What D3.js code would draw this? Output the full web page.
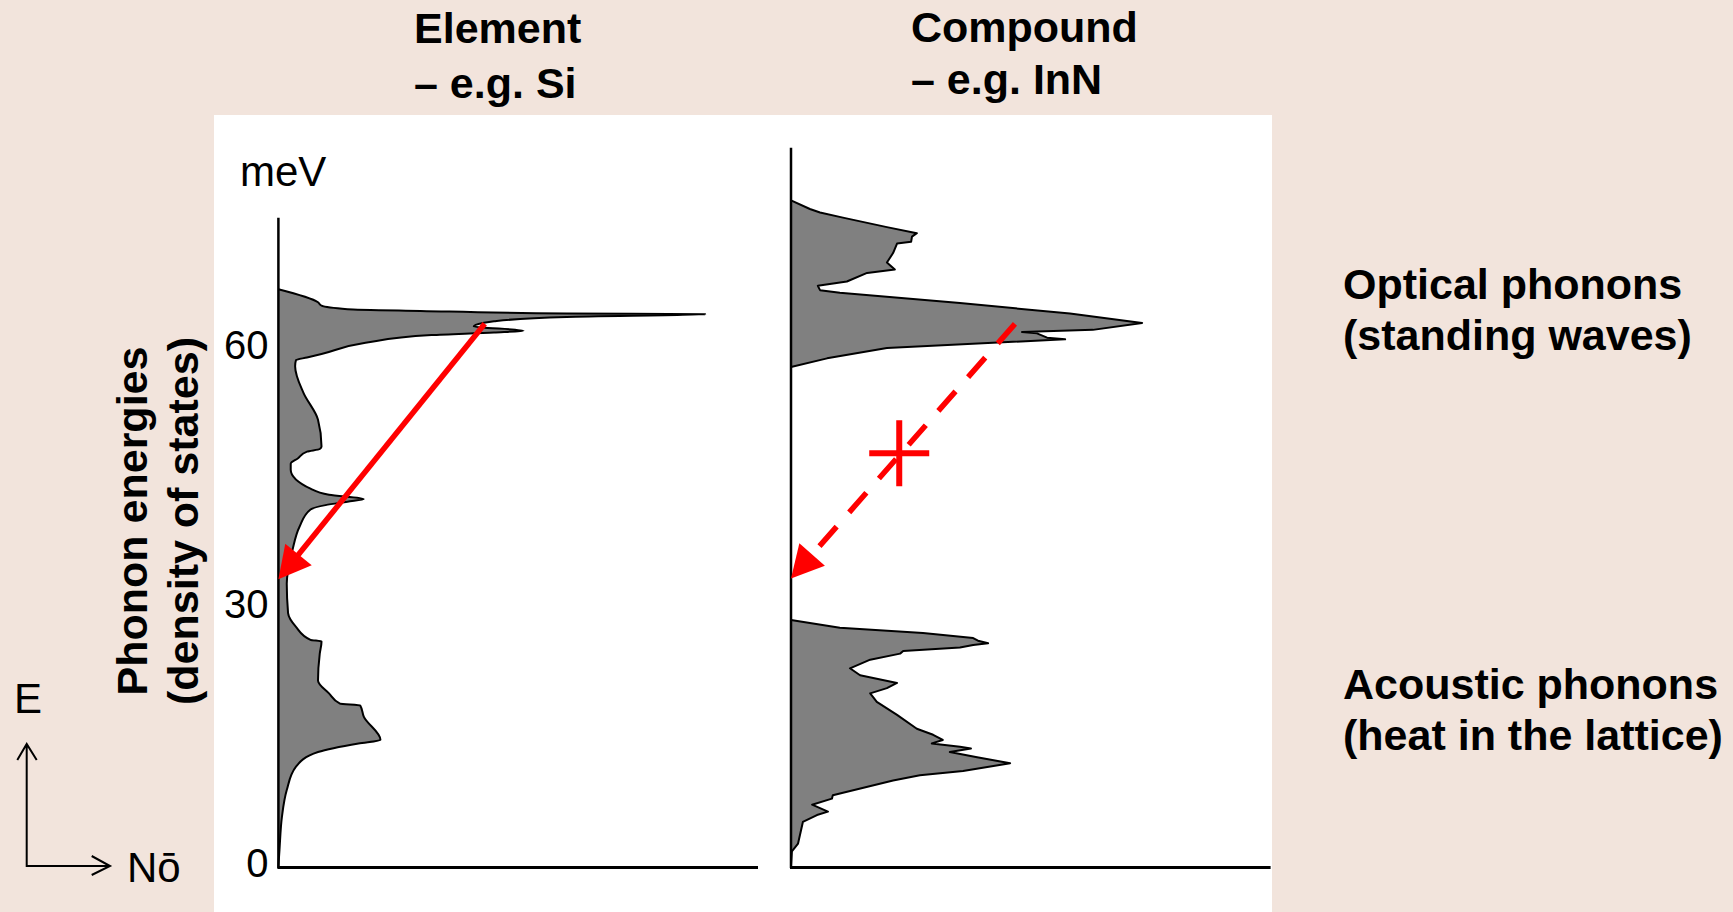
<!DOCTYPE html>
<html>
<head>
<meta charset="utf-8">
<script src="https://cdn.jsdelivr.net/npm/d3@7"></script>
<style>
  body { margin: 0; background: #f2e4dc; }
  svg { display: block; font-family: "Liberation Sans", Arial, sans-serif; }
</style>
</head>
<body>
<svg id="chart" width="1733" height="912"></svg>
<script>
// phonon density of states, energy in meV, DOS in arbitrary units
const siEnergy = [0, 1.9, 5.7, 8.8, 11.5, 13.2, 14.2, 14.6, 17.3, 18.6, 18.8, 20.0, 21.5, 24.6, 26.0, 26.2,
  27.7, 29.3, 32.7, 36.6, 39.3, 41.3, 41.8, 42.2, 42.5, 43.0, 43.7, 45.9, 46.6, 47.2, 48.0, 48.3, 48.6,
  51.7, 54.8, 57.9, 58.6, 58.9, 59.3, 60.6, 61.5, 61.8, 62.0, 62.5, 62.9, 63.1, 63.6, 63.9, 64.0, 64.3,
  64.5, 64.9, 65.3, 66.8];
const siDos = [0, 0.25, 0.8, 1.9, 4.0, 9.0, 18.2, 23.2, 19.4, 18.6, 14.0, 11.5, 9.0, 9.4, 9.8, 7.3,
  4.0, 2.2, 1.9, 3.2, 4.8, 7.3, 10.7, 15.7, 19.4, 11.5, 7.3, 2.8, 2.8, 4.4, 6.5, 9.4, 9.8,
  9.0, 5.7, 3.8, 4.0, 6.5, 9.8, 19.8, 34.8, 49, 55.7, 44.4, 46.5, 49, 65.5, 97, 65.5, 32.3,
  15.7, 9.8, 9.0, 0];

const innAcousticEnergy = [0, 1.7, 2.6, 5.1, 5.9, 6.3, 7.1, 7.8, 8.2, 9.9, 10.5, 11.0, 11.9, 12.6, 13.2,
  13.6, 13.8, 14.2, 14.6, 15.2, 15.9, 17.5, 19.0, 20.0, 20.6, 21.2, 22.1, 22.9, 23.9, 24.6, 24.9,
  25.3, 25.6, 25.8, 26.1, 26.4, 27.0, 27.6, 28.5];
const innAcousticDos = [0, 0.2, 1.6, 2.7, 5.9, 8.4, 4.8, 9.3, 9.5, 23.2, 29.3, 39.1, 49.8, 42.3, 36.1,
  40.9, 38.4, 32, 34.5, 32.3, 28.6, 24.1, 19.5, 18, 21.8, 24.1, 15.7, 13.4, 18, 24.8, 25.5,
  38.4, 41.4, 44.8, 42.5, 41.4, 30, 11.1, 0];

const innOpticalEnergy = [57.8, 58.8, 60.0, 60.6, 61.0, 61.2, 61.7, 61.85, 62.1, 62.9, 64.0, 65.2, 66.4,
  66.7, 67.2, 67.7, 68.7, 69.1, 69.9, 71.0, 72.1, 72.3, 72.9, 73.3, 74.0, 75.1, 75.7, 76.1, 77.1];
const innOpticalDos = [0, 8.2, 21.8, 45.9, 62.3, 58.2, 55.9, 52.5, 68.6, 79.8, 63.4, 38.4, 11.1,
  6.6, 6.1, 12.7, 17.3, 23.6, 21.8, 23.2, 24.1, 27.3, 27.5, 28.6, 21.8, 11.8, 6.6, 4.3, 0];

const tickValues = [0, 30, 60];
const unitLabel = "meV";
const panelTitles = [["Element", "– e.g. Si"], ["Compound", "– e.g. InN"]];
const bandLabels = [["Optical phonons", "(standing waves)"], ["Acoustic phonons", "(heat in the lattice)"]];
const axisTitle = ["Phonon energies", "(density of states)"];

// decay arrows: [energy, dos] start -> end
const siArrow = [[62.8, 46.9], [33.2, 0]];
const innArrow = [[62.8, 50.9], [33.3, 0]];
const blockedMark = [47.8, 24.6];

const svg = d3.select("#chart");

const y = d3.scaleLinear().domain([0, 60]).range([866, 348]);
const xSi = d3.scaleLinear().domain([0, 100]).range([278.4, 718.4]);
const xInN = d3.scaleLinear().domain([0, 100]).range([791, 1231]);
const dosEnd = 109;

// white panel
svg.append("rect")
  .attr("x", 214).attr("y", 115)
  .attr("width", 1058).attr("height", 797)
  .attr("fill", "#fff");

function zip(es, ds) {
  return es.map((e, i) => ({ e: e, d: ds[i] }));
}

function drawDos(x, data, curve) {
  const area = d3.area()
    .y(p => y(p.e))
    .x0(x(0))
    .x1(p => x(p.d))
    .curve(curve);
  const line = d3.line()
    .y(p => y(p.e))
    .x(p => x(p.d))
    .curve(curve);
  svg.append("path").attr("d", area(data)).attr("fill", "#808080");
  svg.append("path").attr("d", line(data))
    .attr("fill", "none")
    .attr("stroke", "#000")
    .attr("stroke-width", 2)
    .attr("stroke-linejoin", "round");
}

drawDos(xSi, zip(siEnergy, siDos), d3.curveMonotoneY);
drawDos(xInN, zip(innAcousticEnergy, innAcousticDos), d3.curveLinear);
drawDos(xInN, zip(innOpticalEnergy, innOpticalDos), d3.curveLinear);

// axes
function drawFrame(x, topEnergy) {
  svg.append("line")
    .attr("x1", x(0)).attr("x2", x(0))
    .attr("y1", y(topEnergy)).attr("y2", y(0) + 2)
    .attr("stroke", "#000").attr("stroke-width", 2.5);
  svg.append("line")
    .attr("x1", x(0) - 1).attr("x2", x(dosEnd))
    .attr("y1", y(0) + 1.5).attr("y2", y(0) + 1.5)
    .attr("stroke", "#000").attr("stroke-width", 3);
}
drawFrame(xSi, 75.1);
drawFrame(xInN, 83.2);

const yAxis = svg.append("g")
  .attr("transform", `translate(${xSi(0)},0)`)
  .call(d3.axisLeft(y).tickValues(tickValues).tickSize(0).tickPadding(10));
yAxis.select(".domain").remove();
yAxis.selectAll("text")
  .attr("font-size", 40)
  .attr("font-family", "Liberation Sans, Arial, sans-serif")
  .attr("fill", "#000")
  .attr("dy", "0.25em");

svg.append("text")
  .attr("x", 240).attr("y", 186)
  .attr("font-size", 42)
  .text(unitLabel);

// red arrows
function drawArrow(x, pts, dashed) {
  const x0 = x(pts[0][1]), y0 = y(pts[0][0]);
  const x1 = x(pts[1][1]), y1 = y(pts[1][0]);
  const len = Math.hypot(x1 - x0, y1 - y0);
  const ux = (x1 - x0) / len, uy = (y1 - y0) / len;
  const head = 32, half = 17;
  const bx = x1 - ux * head, by = y1 - uy * head;
  svg.append("line")
    .attr("x1", x0).attr("y1", y0)
    .attr("x2", x1 - ux * head * 0.7).attr("y2", y1 - uy * head * 0.7)
    .attr("stroke", "#ff0000")
    .attr("stroke-width", 5.5)
    .attr("stroke-dasharray", dashed ? "26,19" : null);
  svg.append("path")
    .attr("d", `M${x1},${y1}L${bx - uy * half},${by + ux * half}L${bx + uy * half},${by - ux * half}Z`)
    .attr("fill", "#ff0000");
}
drawArrow(xSi, siArrow, false);
drawArrow(xInN, innArrow, true);

const mx = xInN(blockedMark[1]), my = y(blockedMark[0]);
svg.append("path")
  .attr("d", `M${mx},${my - 33}V${my + 33}M${mx - 30},${my}H${mx + 30}`)
  .attr("stroke", "#ff0000")
  .attr("stroke-width", 6)
  .attr("fill", "none");

// titles
const titleX = [414, 911];
const titleBase = [[43, 98], [42, 94]];
panelTitles.forEach((lines, i) => {
  lines.forEach((t, j) => {
    svg.append("text")
      .attr("x", titleX[i]).attr("y", titleBase[i][j])
      .attr("font-size", 43).attr("font-weight", "bold")
      .text(t);
  });
});

const bandBase = [[299, 350], [699, 750]];
bandLabels.forEach((lines, i) => {
  lines.forEach((t, j) => {
    svg.append("text")
      .attr("x", 1343).attr("y", bandBase[i][j])
      .attr("font-size", 43).attr("font-weight", "bold")
      .text(t);
  });
});

const axisTitleX = [147, 198];
axisTitle.forEach((t, i) => {
  svg.append("text")
    .attr("transform", `translate(${axisTitleX[i]},521) rotate(-90)`)
    .attr("text-anchor", "middle")
    .attr("font-size", 43).attr("font-weight", "bold")
    .text(t);
});

// E / N key in the corner
svg.append("path")
  .attr("d", "M26.7,744V866H110M17.3,760L26.7,744L36.7,760M91.7,856L110,866L91.7,875")
  .attr("fill", "none")
  .attr("stroke", "#000")
  .attr("stroke-width", 2);
svg.append("text").attr("x", 14).attr("y", 713).attr("font-size", 42).text("E");
svg.append("text").attr("x", 127).attr("y", 882).attr("font-size", 42).text("Nō");
</script>
</body>
</html>
